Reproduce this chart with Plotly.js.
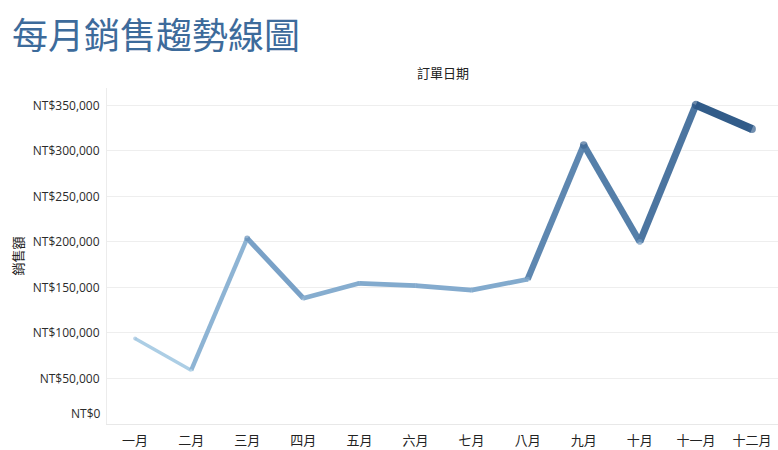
<!DOCTYPE html>
<html>
<head>
<meta charset="utf-8">
<script src="https://cdn.plot.ly/plotly-3.0.1.min.js"></script>
<style>
  html, body { margin: 0; padding: 0; background: #fff; }
  #fig { width: 778px; height: 450px; }
</style>
</head>
<body>
<div id="fig"></div>
<script>
// monthly sales
var months = ['一月', '二月', '三月', '四月', '五月', '六月',
              '七月', '八月', '九月', '十月', '十一月', '十二月'];
var sales = [94000, 59000, 204000, 138000, 154500, 152000,
             147000, 159000, 306500, 200000, 350500, 324000];
var yTicks = [0, 50000, 100000, 150000, 200000, 250000, 300000, 350000];

// colour ramp like the tableau blue sequential palette
var ramp = [[0, [182, 214, 234]], [0.4, [118, 159, 198]], [1, [44, 86, 132]]];
var vmin = Math.min.apply(null, sales), vmax = Math.max.apply(null, sales);

function colorFor(v) {
  var t = (v - vmin) / (vmax - vmin);
  t = Math.max(0, Math.min(1, t));
  for (var i = 1; i < ramp.length; i++) {
    if (t <= ramp[i][0]) {
      var a = ramp[i - 1], b = ramp[i];
      var f = (t - a[0]) / (b[0] - a[0]);
      var c = a[1].map(function (x, k) { return Math.round(x + (b[1][k] - x) * f); });
      return 'rgb(' + c.join(',') + ')';
    }
  }
  return 'rgb(' + ramp[ramp.length - 1][1].join(',') + ')';
}
function widthFor(v) { return 2 + v * 6.3 / 350000; }

function fmt(v) { return 'NT$' + v.toLocaleString('en-US'); }

var traces = [];
// one trace per segment so colour and width follow the value
for (var i = 0; i < months.length - 1; i++) {
  var avg = (sales[i] + sales[i + 1]) / 2;
  traces.push({
    x: [months[i], months[i + 1]],
    y: [sales[i], sales[i + 1]],
    type: 'scatter', mode: 'lines',
    line: { color: colorFor(avg), width: widthFor(avg) },
    hoverinfo: 'skip', showlegend: false
  });
}
// round joints
traces.push({
  x: months, y: sales,
  type: 'scatter', mode: 'markers',
  marker: { color: sales.map(colorFor), size: sales.map(widthFor), line: { width: 0 } },
  showlegend: false
});

var tickFont = { family: 'Open Sans, Noto Sans CJK TC, sans-serif', size: 12, color: '#2b2b2b' };

var layout = {
  width: 778, height: 450,
  margin: { l: 107, r: 0, t: 88, b: 26 },
  paper_bgcolor: '#fff', plot_bgcolor: '#fff',
  showlegend: false,
  title: {
    text: '每月銷售趨勢線圖',
    font: { family: 'Noto Sans CJK TC, sans-serif', size: 36, color: '#3d6b9b' },
    x: 12 / 778, xanchor: 'left', xref: 'container',
    y: 1 - 24 / 450, yanchor: 'top', yref: 'container'
  },
  xaxis: {
    type: 'category',
    range: [-0.5, 11.464],
    showgrid: false, zeroline: false,
    showline: true, linecolor: '#e8e8e8', linewidth: 1,
    ticks: '', ticklabelstandoff: 4,
    tickfont: { family: 'Noto Sans CJK TC, sans-serif', size: 13, color: '#222' }
  },
  yaxis: {
    range: [0, 369000],
    tickvals: yTicks,
    ticktext: yTicks.map(function (v) { return v === 0 ? '' : fmt(v); }),
    showgrid: true, gridcolor: '#eeeeee', gridwidth: 1,
    zeroline: false,
    showline: true, linecolor: '#ececec', linewidth: 1,
    ticks: '', ticklabelstandoff: 4,
    tickfont: tickFont,
    title: {
      text: '銷售額', standoff: 6,
      font: { family: 'Noto Sans CJK TC, sans-serif', size: 13, color: '#222' }
    }
  },
  annotations: [
    { text: '訂單日期', xref: 'paper', yref: 'paper', x: 0.5, y: 1, yanchor: 'bottom',
      yshift: 4, showarrow: false,
      font: { family: 'Noto Sans CJK TC, sans-serif', size: 13, color: '#222' } },
    // zero label sits above the axis line, as in the original
    { text: fmt(0), xref: 'paper', yref: 'y', x: 0, y: 0, xanchor: 'right', yanchor: 'bottom',
      xshift: -4, yshift: 0, showarrow: false, font: tickFont }
  ]
};

Plotly.newPlot('fig', traces, layout, { displayModeBar: false, staticPlot: true });
</script>
</body>
</html>
